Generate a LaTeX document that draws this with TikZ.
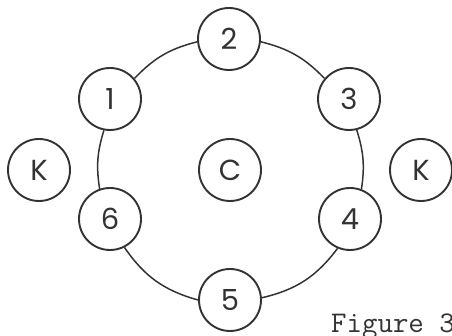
\documentclass[tikz,border=0pt]{standalone}
\usepackage{fontspec}
\usepackage{tikz}
\usetikzlibrary{positioning}
\newfontfamily\beadfont{Poppins}
\definecolor{ink}{HTML}{333333}

\begin{document}
\begin{tikzpicture}[x=1pt, y=1pt,
    bead/.style={circle, draw=ink, line width=1.9pt, fill=white,
      minimum size=62pt, inner sep=0pt, text=ink,
      font=\beadfont\fontsize{29}{30}\selectfont},
    ring/.style={draw=ink, line width=1.5pt}]
  \useasboundingbox (0,0) rectangle (452,336);

  % Beads on the ring
  \node[bead] (n2) at (229,297) {2};
  \node[bead] (n1) at (110,237) {1};
  \node[bead] (n3) at (349,237) {3};
  \node[bead] (n6) at (110,117) {6};
  \node[bead] (n4) at (350,117) {4};
  \node[bead] (n5) at (230,36)  {5};

  % Centre and outer beads
  \node[bead] (c)  at (230,166) {C};
  \node[bead] (kl) at (39,166)  {K};
  \node[bead] (kr) at (421,166) {K};

  % Ring
  \draw[ring] (n1.40)  to[bend left=16] (n2.185);
  \draw[ring] (n2.355) to[bend left=16] (n3.140);
  \draw[ring] (n3.284) to[bend left=13] (n4.69);
  \draw[ring] (n4.247) to[bend left=20] (n5.4);
  \draw[ring] (n5.180) to[bend left=20] (n6.297);
  \draw[ring] (n6.109) to[bend left=13] (n1.259);

  % Caption
  \node[anchor=base west, inner sep=0pt, text=ink,
    font=\ttfamily\fontsize{30}{32}\selectfont] (cap) at (331,3) {Figure 3};

\end{tikzpicture}
\end{document}
